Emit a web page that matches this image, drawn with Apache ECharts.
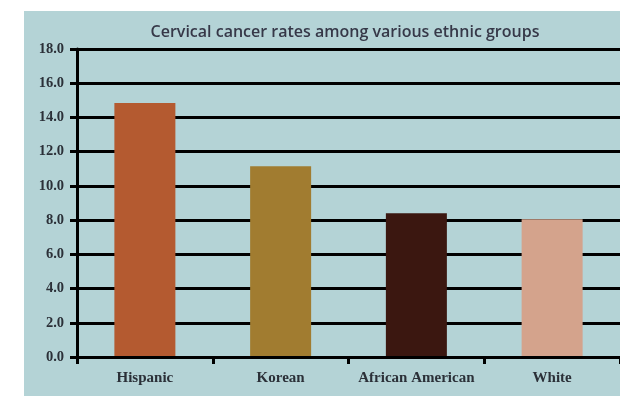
<!DOCTYPE html>
<html>
<head>
<meta charset="utf-8">
<script src="https://cdn.jsdelivr.net/npm/echarts@6/dist/echarts.min.js"></script>
<style>
html,body{margin:0;padding:0;background:#fff;}
#chart{width:620px;height:396px;}
</style>
</head>
<body>
<div id="chart"></div>
<script>
var categories = ['Hispanic', 'Korean', 'African American', 'White'];
var values = [14.85, 11.15, 8.4, 8.05];
var barColors = ['#b45a30', '#a17c30', '#3b1710', '#d4a38c'];
var yTicks = { min: 0, max: 18, interval: 2 };
var titleText = 'Cervical cancer rates among various ethnic groups';

var chart = echarts.init(document.getElementById('chart'), null, { renderer: 'canvas' });
chart.setOption({
  backgroundColor: '#ffffff',
  animation: false,
  graphic: [{
    type: 'rect',
    z: -10,
    shape: { x: 24, y: 11, width: 596, height: 385 },
    style: { fill: '#b4d3d6' }
  }],
  title: {
    text: titleText,
    left: 340,
    textAlign: 'center',
    top: 19,
    textStyle: { fontFamily: 'Open Sans', fontWeight: 600, fontSize: 16, color: '#363848' }
  },
  grid: { left: 77, right: 0, top: 49, bottom: 39, containLabel: false },
  xAxis: {
    type: 'category',
    data: categories,
    z: 5,
    axisLine: { show: true, lineStyle: { color: '#000', width: 3 } },
    axisTick: { show: true, length: 7, lineStyle: { color: '#000', width: 3 }, alignWithLabel: false },
    axisLabel: { margin: 14, fontFamily: 'Liberation Serif', fontWeight: 'bold', fontSize: 15, color: '#2b3038', interval: 0 },
    splitLine: { show: false }
  },
  yAxis: {
    type: 'value',
    min: yTicks.min,
    max: yTicks.max,
    interval: yTicks.interval,
    axisLine: { show: true, lineStyle: { color: '#000', width: 3 } },
    axisTick: { show: true, length: 7, lineStyle: { color: '#000', width: 3 } },
    axisLabel: {
      margin: 13,
      fontFamily: 'Liberation Serif', fontWeight: 'bold', fontSize: 14.5, color: '#2b3038',
      formatter: function (v) { return v.toFixed(1); }
    },
    splitLine: { show: true, lineStyle: { color: '#000', width: 3 } }
  },
  series: [{
    type: 'bar',
    barWidth: 61,
    data: values.map(function (v, i) { return { value: v, itemStyle: { color: barColors[i] } }; })
  }]
});
</script>
</body>
</html>
